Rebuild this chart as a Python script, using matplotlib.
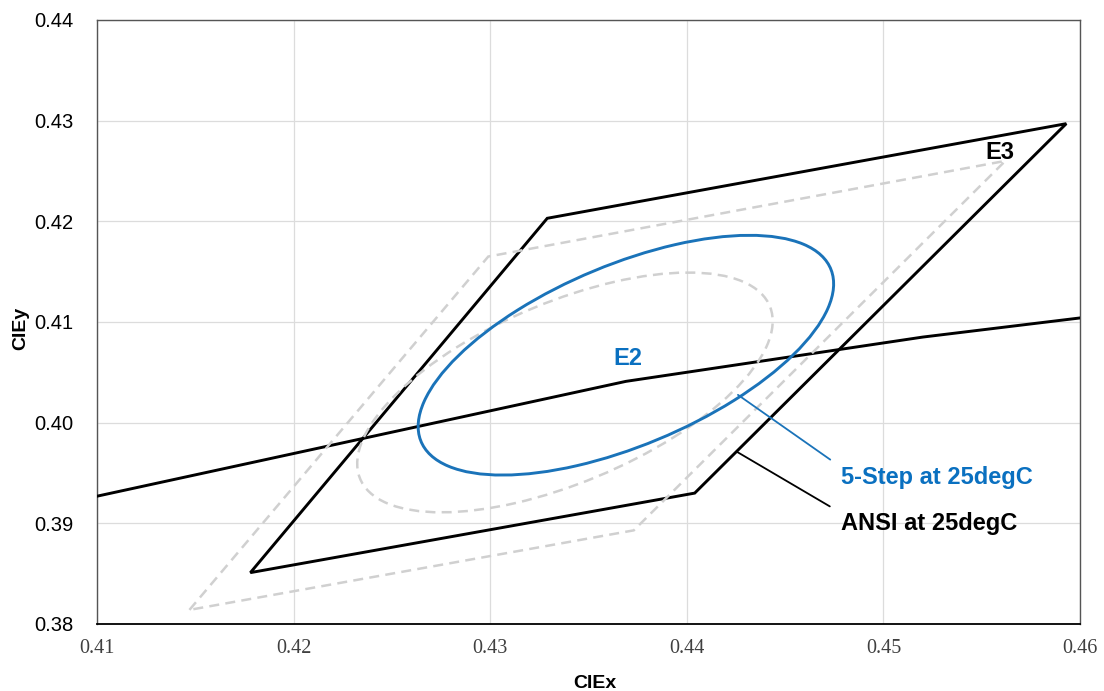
import matplotlib
matplotlib.use("Agg")
import matplotlib.pyplot as plt
from matplotlib.patches import Ellipse, Polygon

# ANSI quadrangles (CIE x, y corners)
ansi_25_x = [0.4178, 0.4329, 0.4593, 0.4404]
ansi_25_y = [0.3851, 0.4203, 0.4297, 0.3930]
ansi_ref_x = [0.4147, 0.4299, 0.4562, 0.4373]
ansi_ref_y = [0.3814, 0.4165, 0.4260, 0.3893]

# black-body locus
locus_x = [0.4053, 0.4369, 0.4520, 0.4600]
locus_y = [0.3907, 0.4041, 0.4085, 0.4104]

# 5-step ellipses: center, full width, full height, angle
ell_25_center = (0.4369, 0.4067)
ell_ref_center = (0.4338, 0.4030)
ell_width = 0.0285
ell_height = 0.0142
ell_angle = 50.7

# labels
e2_pos = (0.4370, 0.4064)
e3_pos = (0.4559, 0.4268)
step_anchor = (0.44260, 0.40276)
step_text = (0.44784, 0.39455)
ansi_anchor = (0.44255, 0.39710)
ansi_text = (0.44784, 0.39000)

xticks = [0.41, 0.42, 0.43, 0.44, 0.45, 0.46]
yticks = [0.38, 0.39, 0.40, 0.41, 0.42, 0.43, 0.44]

blue = "#1a73b9"
txt_blue = "#0a70c0"
gray = "#d0d0d0"
sans = ["Liberation Sans", "DejaVu Sans"]

fig = plt.figure(figsize=(11.04, 6.91), dpi=100)
ax = fig.add_axes([0.0879, 0.0970, 0.8904, 0.8741])

ax.plot(locus_x, locus_y, color="black", lw=2.1, zorder=3)

ax.add_patch(Polygon(list(zip(ansi_25_x, ansi_25_y)), closed=True, fill=False,
                     edgecolor="black", lw=2.1, zorder=3))
ax.add_patch(Polygon(list(zip(ansi_ref_x, ansi_ref_y)), closed=True, fill=False,
                     edgecolor=gray, lw=1.8, ls=(0, (4, 2.5)), zorder=4))

ax.add_patch(Ellipse(ell_ref_center, ell_width, ell_height, angle=ell_angle, fill=False,
                     edgecolor=gray, lw=1.8, ls=(0, (4, 2.5)), zorder=4))
ax.add_patch(Ellipse(ell_25_center, ell_width, ell_height, angle=ell_angle, fill=False,
                     edgecolor=blue, lw=2.1, zorder=5))

ax.text(e2_pos[0], e2_pos[1], "E2", color=txt_blue, fontsize=17, fontweight="bold",
        family=sans, ha="center", va="center", zorder=6)
ax.text(e3_pos[0], e3_pos[1], "E3", color="black", fontsize=17, fontweight="bold",
        family=sans, ha="center", va="center", zorder=6)

ax.annotate("5-Step at 25degC", xy=step_anchor, xytext=step_text, color=txt_blue,
            fontsize=17, fontweight="bold", family=sans, ha="left", va="center",
            arrowprops=dict(arrowstyle="-", color=blue, lw=1.3, relpos=(0, 0.95),
                            shrinkA=7, shrinkB=0), zorder=6)
ax.annotate("ANSI at 25degC", xy=ansi_anchor, xytext=ansi_text, color="black",
            fontsize=17, fontweight="bold", family=sans, ha="left", va="center",
            arrowprops=dict(arrowstyle="-", color="black", lw=1.3, relpos=(0, 0.95),
                            shrinkA=7, shrinkB=0), zorder=6)

ax.set_xlim(0.41, 0.46)
ax.set_ylim(0.38, 0.44)
ax.set_xticks(xticks)
ax.set_yticks(yticks)
ax.set_xticklabels(["%.2f" % v for v in xticks], family=["Liberation Serif"],
                   fontsize=14.5, color="#404040")
ax.set_yticklabels(["%.2f" % v for v in yticks], family=sans, fontsize=14.5, color="black")
ax.tick_params(axis="both", length=0)
ax.tick_params(axis="x", pad=11)
ax.tick_params(axis="y", pad=17)
ax.grid(True, color="#dcdcdc", lw=0.9)
ax.set_axisbelow(True)

for side in ["top", "right", "left"]:
    ax.spines[side].set_color("#555555")
    ax.spines[side].set_linewidth(1.0)
ax.spines["bottom"].set_color("black")
ax.spines["bottom"].set_linewidth(1.3)

ax.set_xlabel("CIEx", family=sans, fontsize=14, fontweight="bold")
ax.set_ylabel("CIEy", family=sans, fontsize=14, fontweight="bold")
ax.xaxis.set_label_coords(0.5066, -0.085)
ax.yaxis.set_label_coords(-0.069, 0.49)

plt.savefig("out.png", dpi=100)
